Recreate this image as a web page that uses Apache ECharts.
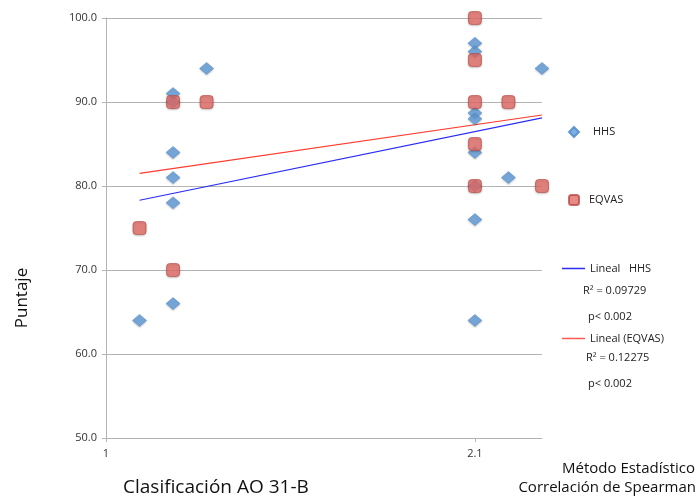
<!DOCTYPE html>
<html>
<head>
<meta charset="utf-8">
<script src="https://cdn.jsdelivr.net/npm/echarts@6/dist/echarts.min.js"></script>
<style>
  html, body { margin: 0; padding: 0; background: #fff; }
  #chart { width: 698px; height: 499px; }
</style>
</head>
<body>
<div id="chart"></div>
<script>
// HHS points [clasificacion, puntaje]
const hhsPoints = [
  [1.1, 64],
  [1.2, 91], [1.2, 90], [1.2, 84], [1.2, 81], [1.2, 78], [1.2, 66],
  [1.3, 94],
  [2.1, 97], [2.1, 96], [2.1, 88.7], [2.1, 88], [2.1, 84], [2.1, 80], [2.1, 76], [2.1, 64],
  [2.2, 81],
  [2.3, 94]
];
// EQVAS points
const eqvasPoints = [
  [1.1, 75],
  [1.2, 90], [1.2, 70],
  [1.3, 90],
  [2.1, 100], [2.1, 95], [2.1, 90], [2.1, 85], [2.1, 80],
  [2.2, 90],
  [2.3, 80]
];
// linear trend lines, end points
const hhsTrend = [[1.1, 78.3], [2.3, 88.1]];
const eqvasTrend = [[1.1, 81.5], [2.3, 88.45]];
const xTickValues = [1, 2.1];

const font = '"Open Sans", "Noto Sans", sans-serif';
const chart = echarts.init(document.getElementById('chart'));

const option = {
  backgroundColor: '#fff',
  animation: false,
  textStyle: { fontFamily: font },
  grid: { left: 106, right: 156, top: 18, bottom: 61 },
  xAxis: {
    type: 'value',
    min: 1,
    max: 2.3,
    axisLine: { lineStyle: { color: '#b3b3b3', width: 1 } },
    axisTick: { customValues: xTickValues, length: 4, inside: false, lineStyle: { color: '#b3b3b3' } },
    axisLabel: { customValues: xTickValues, fontSize: 11, color: '#333', margin: 10,
      formatter: v => String(v) },
    splitLine: { show: false }
  },
  yAxis: {
    type: 'value',
    min: 50,
    max: 100,
    interval: 10,
    axisLine: { show: true, lineStyle: { color: '#b3b3b3', width: 1 } },
    axisTick: { show: true, length: 4, lineStyle: { color: '#b3b3b3' } },
    axisLabel: { fontSize: 11, color: '#333', margin: 9, formatter: v => v.toFixed(1) },
    splitLine: { lineStyle: { color: '#b3b3b3', width: 1 } }
  },
  legend: [{
    left: 563,
    top: 121,
    orient: 'vertical',
    itemGap: 56,
    itemWidth: 10,
    itemHeight: 10,
    textStyle: { fontSize: 11, color: '#222' },
    data: [
      { name: 'HHS', textStyle: { padding: [0, 0, 0, 9] } },
      { name: 'EQVAS', textStyle: { padding: [0, 0, 0, 5] } }
    ]
  }, {
    left: 557,
    top: 258,
    orient: 'vertical',
    itemGap: 59,
    itemWidth: 23,
    itemHeight: 1.5,
    icon: 'rect',
    textStyle: { fontSize: 11, color: '#222' },
    data: ['Lineal   HHS', 'Lineal (EQVAS)']
  }],
  series: [{
    name: 'HHS',
    type: 'scatter',
    symbol: 'diamond',
    symbolSize: [14, 12],
    itemStyle: { color: '#5f9bd8', borderColor: '#4a86c8', borderWidth: 0.6,
      shadowColor: 'rgba(0,0,0,0.25)', shadowBlur: 2, shadowOffsetY: 1 },
    data: hhsPoints,
    z: 3
  }, {
    name: 'EQVAS',
    type: 'scatter',
    symbol: 'roundRect',
    symbolSize: 13,
    itemStyle: { color: '#e46c66', borderColor: '#b94a46', borderWidth: 0.8,
      shadowColor: 'rgba(0,0,0,0.25)', shadowBlur: 2, shadowOffsetY: 1 },
    data: eqvasPoints,
    z: 4
  }, {
    name: 'Lineal   HHS',
    type: 'line',
    symbol: 'none',
    data: hhsTrend,
    lineStyle: { color: '#2a2cf5', width: 1.2 },
    itemStyle: { color: '#2a2cf5' },
    z: 2
  }, {
    name: 'Lineal (EQVAS)',
    type: 'line',
    symbol: 'none',
    data: eqvasTrend,
    lineStyle: { color: '#ff3a2e', width: 1.2 },
    itemStyle: { color: '#ff5a50' },
    z: 2
  }],
  graphic: [
    { type: 'text', left: 583, top: 285, style: { text: 'R² = 0.09729', fontSize: 11, fill: '#222', fontFamily: font } },
    { type: 'text', left: 588, top: 311, style: { text: 'p< 0.002', fontSize: 11, fill: '#222', fontFamily: font } },
    { type: 'text', left: 586, top: 352, style: { text: 'R² = 0.12275', fontSize: 11, fill: '#222', fontFamily: font } },
    { type: 'text', left: 588, top: 378, style: { text: 'p< 0.002', fontSize: 11, fill: '#222', fontFamily: font } },
    { type: 'text', x: 22, y: 298, rotation: Math.PI / 2,
      style: { text: 'Puntaje', fontSize: 17, fill: '#111', fontFamily: font, align: 'center', verticalAlign: 'middle' } },
    { type: 'text', left: 123, top: 478,
      style: { text: 'Clasificación AO 31-B', fontSize: 19, fill: '#111', fontFamily: font } },
    { type: 'text', right: 3, top: 461,
      style: { text: 'Método Estadístico', fontSize: 15, fill: '#111', fontFamily: font, align: 'right' } },
    { type: 'text', right: 2, top: 480,
      style: { text: 'Correlación de Spearman', fontSize: 15, fill: '#111', fontFamily: font, align: 'right' } }
  ]
};

chart.setOption(option);
</script>
</body>
</html>
